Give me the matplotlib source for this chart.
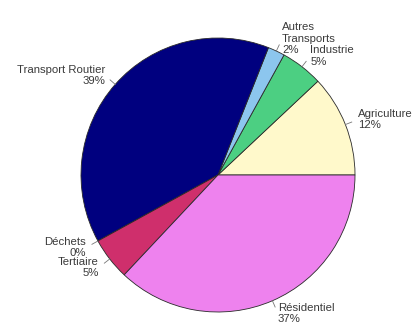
import numpy as np
import matplotlib
matplotlib.use("Agg")
import matplotlib.pyplot as plt

# Emissions share by sector (percent)
sectors = ["Agriculture", "Industrie", "Autres\nTransports", "Transport Routier",
           "Déchets", "Tertiaire", "Résidentiel"]
shares = [12, 5, 2, 39, 0, 5, 37]
colors = ["#FFF9CB", "#4CCF82", "#8CC6EE", "#00007F", "#9A9A9A", "#CF2F6C", "#EE82EE"]

plt.rcParams["font.family"] = ["Liberation Sans", "DejaVu Sans"]

fig = plt.figure(figsize=(4.16, 3.29), dpi=100)
W, H = 416, 329
cx, cy, r = 218, 175, 137
ax = fig.add_axes([(cx - r) / W, (H - cy - r) / H, 2 * r / W, 2 * r / H])

wedges, _ = ax.pie(shares, colors=colors, startangle=0, counterclock=True,
                   radius=1.0, wedgeprops=dict(edgecolor="#2a2a2a", linewidth=0.6))
for w in wedges:
    w.set_clip_on(False)
ax.set_xlim(-1, 1)
ax.set_ylim(-1, 1)
ax.axis("off")

# labels placed like base-R pie(): tick from 1.0r to 1.05r, text at 1.1r
total = sum(shares)
start = 0.0
for name, val in zip(sectors, shares):
    ang = np.deg2rad((start + val / 2) / total * 360)
    start += val
    x, y = np.cos(ang), np.sin(ang)
    ax.plot([x, 1.05 * x], [y, 1.05 * y], color="#777777", lw=0.6, clip_on=False)
    ha = "right" if x < 0 else "left"
    ax.text(1.1 * x, 1.1 * y, f"{name}\n{val}%", ha=ha, va="center",
            multialignment=ha, fontsize=8.2, color="#3a3a3a", linespacing=1.2,
            clip_on=False)

fig.savefig("out.png", dpi=100, facecolor="white")
